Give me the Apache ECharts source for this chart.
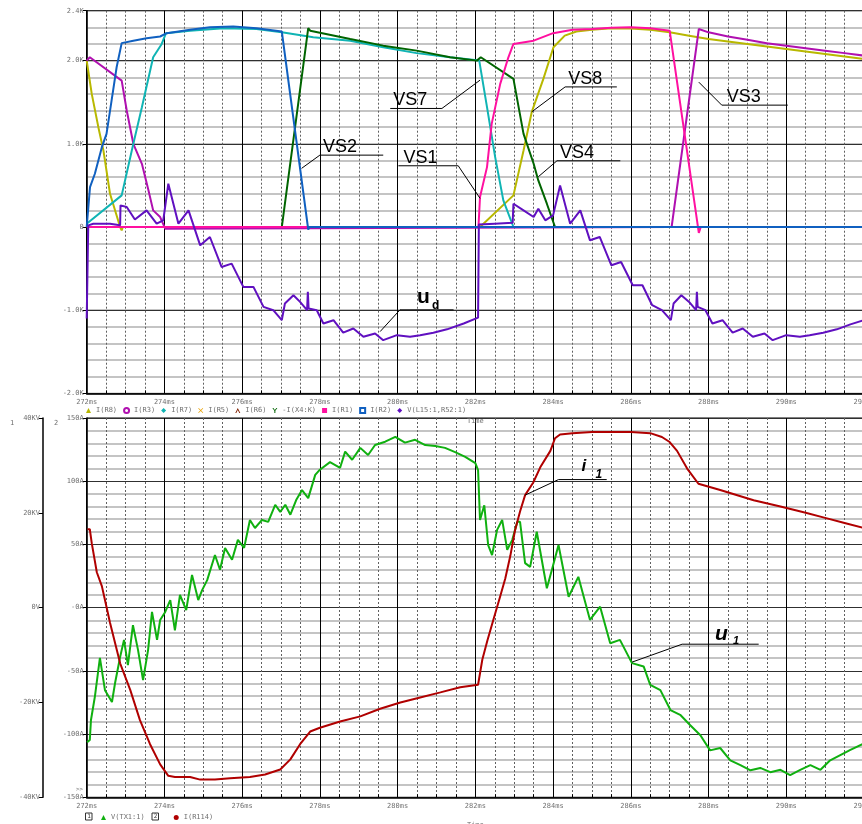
<!DOCTYPE html>
<html>
<head>
<meta charset="utf-8">
<script src="https://cdn.jsdelivr.net/npm/echarts@6/dist/echarts.min.js"></script>
<style>
html, body { margin: 0; padding: 0; background: #fff; }
#main { width: 862px; height: 824px; }
</style>
</head>
<body>
<div id="main"></div>
<script>
// time axis (ms)
const timeMin = 272, timeMax = 292;

// top plot tick labels
const topTickValues = [-2000, -1000, 0, 1000, 2000, 2600];
const topTickLabels = ['-2.0K', '-1.0K', '0', '1.0K', '2.0K', '2.4K'];
// bottom plot tick labels
const ampTickValues = [-150, -100, -50, 0, 50, 100, 150];
const ampTickLabels = ['-150A', '-100A', '-50A', '-0A', '50A', '100A', '150A'];
const kvTickValues = [-40, -20, 0, 20, 40];
const kvTickLabels = ['-40KV', '-20KV', '0V', '20KV', '40KV'];

// top plot: [time ms, value]
const iR8 = [[272,2000],[272.13,1600],[272.3,1200],[272.43,920],[272.6,400],[272.86,0],[272.9,-40],[272.93,0],
  [282.12,0],[282.98,380],[283.24,920],[283.45,1380],[283.75,1780],[284.01,2160],[284.3,2300],[284.6,2350],
  [285,2370],[285.5,2390],[286,2385],[286.5,2370],[287,2340],[287.5,2300],[288,2260],[288.5,2230],[289,2200],
  [289.5,2170],[290,2140],[290.5,2110],[291,2080],[291.5,2050],[292,2020]];
const iR3 = [[272,2000],[272.08,2040],[272.9,1760],[273.03,1400],[273.2,1000],[273.42,760],[273.59,440],
  [273.71,200],[273.89,120],[274.02,-20],[274.05,0],[287.05,0],[287.75,2380],[288,2340],[288.5,2290],
  [289,2250],[289.5,2210],[290,2180],[290.5,2150],[291,2120],[291.5,2090],[292,2060]];
const iR7 = [[272,40],[272.9,380],[273.2,1000],[273.42,1440],[273.71,2040],[273.93,2200],[274.04,2330],
  [274.66,2360],[275.52,2390],[276.37,2380],[277.02,2340],[277.83,2280],[278.78,2240],[279.63,2160],
  [280.49,2090],[281.35,2040],[282.1,2000],[282.3,1440],[282.51,840],[282.72,320],[282.98,0],[292,0]];
const iR5 = [];
const iR6 = [];
const iX4K = [[272,0],[277.02,0],[277.7,2390],[277.75,2360],[278.78,2260],[279.63,2180],[280.49,2120],
  [281.35,2040],[282.04,2000],[282.14,2040],[282.98,1780],[283.24,1120],[283.5,760],[283.62,560],
  [283.84,280],[284.05,0],[292,0]];
const iR1 = [[272,0],[282.08,0],[282.12,360],[282.3,720],[282.42,1240],[282.64,1720],[282.85,2040],
  [282.98,2200],[283.5,2240],[284,2330],[284.5,2370],[285,2380],[285.5,2395],[286,2400],[286.5,2390],
  [287,2360],[287.75,-70],[287.8,0],[292,0]];
const iR2 = [[272,0],[272.085,480],[272.21,640],[272.39,960],[272.51,1120],[272.64,1520],[272.77,1920],
  [272.9,2210],[273.2,2240],[273.54,2270],[273.89,2290],[274.06,2330],[274.66,2370],[275.17,2400],
  [275.77,2410],[276.37,2390],[277.02,2350],[277.7,-30],[277.73,0],[292,0]];
const vL15 = [[272,-1100],[272.03,-1100],[272.04,20],[272.17,40],[272.6,40],[272.86,20],[272.87,260],
  [273.03,240],[273.24,90],[273.54,200],[273.8,40],[273.97,80],[274.1,520],[274.36,40],[274.62,200],
  [274.92,-220],[275.17,-120],[275.47,-480],[275.73,-440],[276.03,-720],[276.29,-720],[276.55,-960],
  [276.8,-1000],[277.02,-1120],[277.1,-920],[277.32,-820],[277.49,-900],[277.67,-1000],[277.69,-780],
  [277.71,-980],[277.92,-1000],[278.09,-1160],[278.35,-1120],[278.6,-1270],[278.86,-1220],[279.12,-1320],
  [279.42,-1280],[279.63,-1360],[279.98,-1300],[280.32,-1320],[280.58,-1300],[280.92,-1270],[281.27,-1230],
  [281.7,-1160],[282.07,-1090],[282.09,30],[282.5,40],[282.96,50],[282.98,280],[283.24,200],[283.5,120],
  [283.62,220],[283.8,80],[284,140],[284.18,500],[284.44,40],[284.7,200],[284.95,-160],[285.2,-120],
  [285.5,-460],[285.75,-420],[286.05,-700],[286.3,-700],[286.55,-940],[286.8,-1000],[287.03,-1120],
  [287.1,-920],[287.3,-820],[287.5,-900],[287.68,-1000],[287.7,-780],[287.72,-960],[287.92,-1000],
  [288.1,-1160],[288.36,-1120],[288.62,-1270],[288.88,-1220],[289.14,-1320],[289.44,-1280],[289.65,-1360],
  [290,-1300],[290.35,-1320],[290.6,-1300],[290.95,-1270],[291.3,-1230],[291.65,-1170],[292,-1120]];

// bottom plot: V(TX1:1) in kV, I(R114) in A
const vTX1 = [[272.01,-28.4],[272.08,-27.9],[272.11,-23.7],[272.21,-18.8],[272.34,-10.6],[272.47,-17.4],
  [272.65,-19.9],[272.73,-15.9],[272.86,-10.4],[272.96,-6.8],[273.06,-12.1],[273.19,-3.7],[273.32,-8.9],
  [273.45,-15.3],[273.58,-8.9],[273.68,-0.9],[273.81,-6.8],[273.89,-2.6],[274.02,-0.9],[274.15,1.6],
  [274.27,-4.8],[274.4,2.7],[274.56,-0.5],[274.71,6.9],[274.87,1.6],[274.97,3.7],[275.1,5.8],[275.3,11.1],
  [275.43,8.0],[275.56,12.6],[275.74,10.1],[275.89,14.3],[276.05,12.6],[276.2,18.5],[276.33,16.8],
  [276.51,18.5],[276.67,18.1],[276.85,21.7],[276.98,20.2],[277.11,21.7],[277.24,19.6],[277.39,22.7],
  [277.54,24.8],[277.7,23.1],[277.88,28.0],[278.0,29.1],[278.26,30.7],[278.52,29.5],[278.65,32.9],
  [278.83,31.2],[279.04,33.7],[279.24,32.2],[279.42,34.3],[279.68,35.0],[279.94,36.0],[280.19,34.8],
  [280.45,35.4],[280.71,34.3],[280.97,34.1],[281.22,33.7],[281.48,32.8],[281.74,31.8],[282.0,30.5],
  [282.07,29.0],[282.12,18.5],[282.23,21.6],[282.33,13.2],[282.43,11.1],[282.56,16.4],[282.69,18.5],
  [282.82,12.2],[282.95,14.3],[283.08,18.1],[283.15,18.1],[283.28,9.4],[283.41,8.6],[283.58,16.0],
  [283.84,4.1],[283.97,8.0],[284.14,13.2],[284.4,2.3],[284.65,6.5],[284.95,-2.6],[285.21,0.2],
  [285.47,-7.5],[285.72,-6.8],[286.03,-11.7],[286.33,-12.4],[286.5,-16.3],[286.76,-17.4],[287.02,-21.6],
  [287.27,-22.6],[287.53,-24.8],[287.79,-26.9],[288.04,-30.1],[288.3,-29.6],[288.56,-32.2],[288.82,-33.2],
  [289.08,-34.3],[289.33,-33.8],[289.59,-34.7],[289.85,-34.2],[290.1,-35.3],[290.36,-34.2],[290.62,-33.2],
  [290.88,-34.2],[291.13,-32.2],[291.39,-31.1],[291.65,-30.0],[291.96,-28.8]];
const iR114 = [[272.02,62],[272.08,62],[272.13,51],[272.26,28],[272.39,17],[272.47,6],[272.6,-12],
  [272.73,-28],[272.86,-44],[273.12,-65],[273.37,-89],[273.63,-108],[273.89,-124],[274.1,-133],
  [274.27,-134],[274.66,-134],[274.92,-136],[275.3,-136],[275.69,-135],[276.2,-134],[276.59,-132],
  [276.98,-128],[277.24,-120],[277.49,-108],[277.75,-98],[278.0,-95],[278.52,-90],[279.04,-86],
  [279.55,-80],[280.07,-75],[280.58,-71],[281.1,-67],[281.61,-63],[282.07,-61],[282.18,-41],
  [282.31,-26],[282.46,-10],[282.64,9],[282.77,23],[282.9,41],[283.02,61],[283.15,76],[283.28,89],
  [283.49,99],[283.67,111],[283.93,124],[284.05,134],[284.18,137],[284.5,138],[285,139],[285.5,139],
  [286,139],[286.5,138],[286.8,135],[287,131],[287.19,124],[287.45,110],[287.74,98],[288.3,93],
  [289.16,85],[289.85,80],[290.5,75],[291,71],[291.5,67],[292,63]];

// label annotations: anchor on curve, elbow, end of underline
const notes = [
  { text: 'VS2', grid: 0, pts: [[277.53,705],[278.0,864],[279.63,864]], dx: 3 },
  { text: 'VS1', grid: 0, pts: [[282.12,345],[281.56,736],[280.02,736]], dx: 5 },
  { text: 'VS7', grid: 0, pts: [[282.12,1765],[281.14,1425],[279.81,1425]], dx: 3 },
  { text: 'VS8', grid: 0, pts: [[283.45,1384],[284.31,1684],[285.64,1684]], dx: 3 },
  { text: 'VS4', grid: 0, pts: [[283.62,604],[284.1,796],[285.73,796]], dx: 3 },
  { text: 'VS3', grid: 0, pts: [[287.75,1741],[288.34,1465],[290.04,1465]], dx: 5 },
  { text: 'u', sub: 'd', italic: false, grid: 0, pts: [[279.55,-1257],[280.06,-996],[281.44,-996]],
    dx: 17, dy: -7, size: 21, sdx: 32, sdy: -1, ssize: 12 },
  { text: 'i', sub: '1', italic: true, grid: 1, pts: [[283.28,89],[284.14,101.3],[285.38,101.3]],
    dx: 23, dy: -8.6, size: 17, sdx: 37, sdy: -1.3, ssize: 12 },
  { text: 'u', sub: '1', italic: true, grid: 1, pts: [[286.03,-43.1],[287.32,-28.9],[289.29,-28.9]],
    dx: 33, dy: -4.3, size: 21, sdx: 51, sdy: -0.3, ssize: 11 }
];

const mono = 'DejaVu Sans Mono';
const tickText = { color: '#707070', fontSize: 7, fontFamily: mono };

function timeAxis(gridIndex) {
  return {
    type: 'value', gridIndex: gridIndex, min: timeMin, max: timeMax, interval: 2,
    axisLine: { show: true, onZero: false, lineStyle: { color: '#000', width: 1.5 } },
    axisTick: { show: true, inside: true, length: 5, lineStyle: { color: '#000' } },
    minorTick: { show: true, splitNumber: 4, length: 3, lineStyle: { color: '#000' } },
    axisLabel: Object.assign({ margin: 5, formatter: v => v + 'ms' }, tickText),
    splitLine: { show: true, lineStyle: { color: '#000', width: 1 } },
    minorSplitLine: { show: true, lineStyle: { color: '#606060', width: 1, type: [2, 2] } },
    name: 'Time', nameLocation: 'middle', nameGap: 24, nameTextStyle: tickText
  };
}

function labelFrom(values, labels) {
  return v => {
    const i = values.indexOf(Math.round(v * 1000) / 1000);
    return i < 0 ? '' : labels[i];
  };
}

const topSeries = [
  { name: 'I(R8)', data: iR8, color: '#b8b800', icon: 'triangle' },
  { name: 'I(R3)', data: iR3, color: '#b010b0', icon: 'emptyCircle' },
  { name: 'I(R7)', data: iR7, color: '#10b4b4', icon: 'diamond' },
  { name: 'I(R5)', data: iR5, color: '#e8a000', icon: 'path://M0,1L1,0L5,4L9,0L10,1L6,5L10,9L9,10L5,6L1,10L0,9L4,5Z' },
  { name: 'I(R6)', data: iR6, color: '#802000', icon: 'path://M5,0L10,10L8,10L5,4L2,10L0,10Z' },
  { name: '-I(X4:K)', data: iX4K, color: '#006400', icon: 'path://M0,0L2,0L5,4L8,0L10,0L6,5.5L6,10L4,10L4,5.5Z' },
  { name: 'I(R1)', data: iR1, color: '#ff10a0', icon: 'rect' },
  { name: 'I(R2)', data: iR2, color: '#1060c0', icon: 'emptyRect' },
  { name: 'V(L15:1,R52:1)', data: vL15, color: '#6010c0', icon: 'diamond' }
];
const bottomSeries = [
  { name: 'V(TX1:1)', data: vTX1, color: '#10b010', icon: 'triangle', y: 3 },
  { name: 'I(R114)', data: iR114, color: '#b00000', icon: 'circle', y: 2 }
];

const series = topSeries.map(s => ({
  name: s.name, type: 'line', xAxisIndex: 0, yAxisIndex: 1, data: s.data,
  showSymbol: false, symbol: 'none', animation: false,
  itemStyle: { color: s.color }, lineStyle: { color: s.color, width: 2 }
})).concat(bottomSeries.map(s => ({
  name: s.name, type: 'line', xAxisIndex: 1, yAxisIndex: s.y, data: s.data,
  showSymbol: false, symbol: 'none', animation: false,
  itemStyle: { color: s.color }, lineStyle: { color: s.color, width: 2 }
})));

const chart = echarts.init(document.getElementById('main'));
chart.setOption({
  backgroundColor: '#fff',
  animation: false,
  grid: [
    { left: 86.7, right: -2, top: 10.7, height: 382.7, show: true, borderColor: '#000', borderWidth: 1,
      containLabel: false, outerBoundsMode: 'none' },
    { left: 86.7, right: -2, top: 418, height: 379.3, show: true, borderColor: '#000', borderWidth: 1,
      containLabel: false, outerBoundsMode: 'none' }
  ],
  xAxis: [timeAxis(0), timeAxis(1)],
  yAxis: [
    { type: 'value', gridIndex: 0, position: 'left', min: -2000, max: 2600, interval: 200,
      axisLine: { show: false }, axisTick: { show: false }, axisLabel: { show: false },
      splitLine: { show: true, lineStyle: { color: '#b0b0b0', width: 1.6 } } },
    { type: 'value', gridIndex: 0, position: 'left', min: -2000, max: 2600, interval: 1000,
      axisLine: { show: true, lineStyle: { color: '#000', width: 1.5 } },
      axisTick: { show: true, length: 4, lineStyle: { color: '#000' } },
      axisLabel: Object.assign({ margin: 3, formatter: labelFrom(topTickValues, topTickLabels) }, tickText),
      splitLine: { show: true, lineStyle: { color: '#303030', width: 1 } } },
    { type: 'value', gridIndex: 1, position: 'left', min: -150, max: 150, interval: 50,
      axisLine: { show: true, lineStyle: { color: '#000', width: 1.5 } },
      axisTick: { show: true, length: 4, lineStyle: { color: '#000' } },
      minorTick: { show: false, splitNumber: 5 },
      axisLabel: Object.assign({ margin: 3, formatter: labelFrom(ampTickValues, ampTickLabels) }, tickText),
      splitLine: { show: true, lineStyle: { color: '#303030', width: 1 } },
      minorSplitLine: { show: true, lineStyle: { color: '#b0b0b0', width: 1.6 } } },
    { type: 'value', gridIndex: 1, position: 'left', offset: 43.7, min: -40, max: 40, interval: 20,
      axisLine: { show: true, lineStyle: { color: '#000', width: 1.5 } },
      axisTick: { show: true, length: 4, lineStyle: { color: '#000' } },
      axisLabel: Object.assign({ margin: 3, formatter: labelFrom(kvTickValues, kvTickLabels) }, tickText),
      splitLine: { show: false } }
  ],
  legend: [
    { left: 86, top: 407, itemWidth: 5, itemHeight: 5, itemGap: 6, padding: 0, selectedMode: false,
      textStyle: tickText, data: topSeries.map(s => ({ name: s.name, icon: s.icon })) },
    { left: 101, top: 814, itemWidth: 5, itemHeight: 5, itemGap: 29, padding: 0, selectedMode: false,
      textStyle: tickText, data: bottomSeries.map(s => ({ name: s.name, icon: s.icon })) }
  ],
  series: series
});

// annotations and small marks
const graphics = [];
notes.forEach(n => {
  const finder = n.grid === 0 ? { xAxisIndex: 0, yAxisIndex: 1 } : { xAxisIndex: 1, yAxisIndex: 2 };
  const p = n.pts.map(pt => chart.convertToPixel(finder, pt));
  graphics.push({ type: 'polyline', silent: true, z: 100,
    shape: { points: p }, style: { stroke: '#000', lineWidth: 1, fill: null } });
  const left = Math.min(p[1][0], p[2][0]);
  const ly = p[1][1];
  if (n.sub) {
    graphics.push({ type: 'text', z: 100, x: left + n.dx, y: ly + n.dy + n.size * 0.22,
      style: { text: n.text, fontSize: n.size, fontWeight: 'bold', fontStyle: n.italic ? 'italic' : 'normal',
        fontFamily: 'Liberation Sans', fill: '#000', verticalAlign: 'bottom' } });
    graphics.push({ type: 'text', z: 100, x: left + n.sdx, y: ly + n.sdy + n.ssize * 0.22,
      style: { text: n.sub, fontSize: n.ssize, fontWeight: 'bold', fontStyle: n.italic ? 'italic' : 'normal',
        fontFamily: 'Liberation Sans', fill: '#000', verticalAlign: 'bottom' } });
  } else {
    graphics.push({ type: 'text', z: 100, x: left + n.dx, y: ly + 1,
      style: { text: n.text, fontSize: 18, fontFamily: 'Liberation Sans', fill: '#000', verticalAlign: 'bottom' } });
  }
});
graphics.push({ type: 'text', x: 10, y: 420, style: { text: '1', fontSize: 7, fontFamily: mono, fill: '#707070' } });
graphics.push({ type: 'text', x: 54, y: 420, style: { text: '2', fontSize: 7, fontFamily: mono, fill: '#707070' } });
graphics.push({ type: 'text', x: 76, y: 786, style: { text: '>>', fontSize: 6, fontFamily: mono, fill: '#707070' } });
[[85.5, '1'], [152, '2']].forEach(b => {
  graphics.push({ type: 'rect', shape: { x: b[0], y: 813, width: 6.5, height: 7 },
    style: { fill: '#fff', stroke: '#333', lineWidth: 1 } });
  graphics.push({ type: 'text', x: b[0] + 1.7, y: 813.8, style: { text: b[1], fontSize: 6, fontFamily: mono, fill: '#333' } });
});
chart.setOption({ graphic: graphics });
</script>
</body>
</html>
